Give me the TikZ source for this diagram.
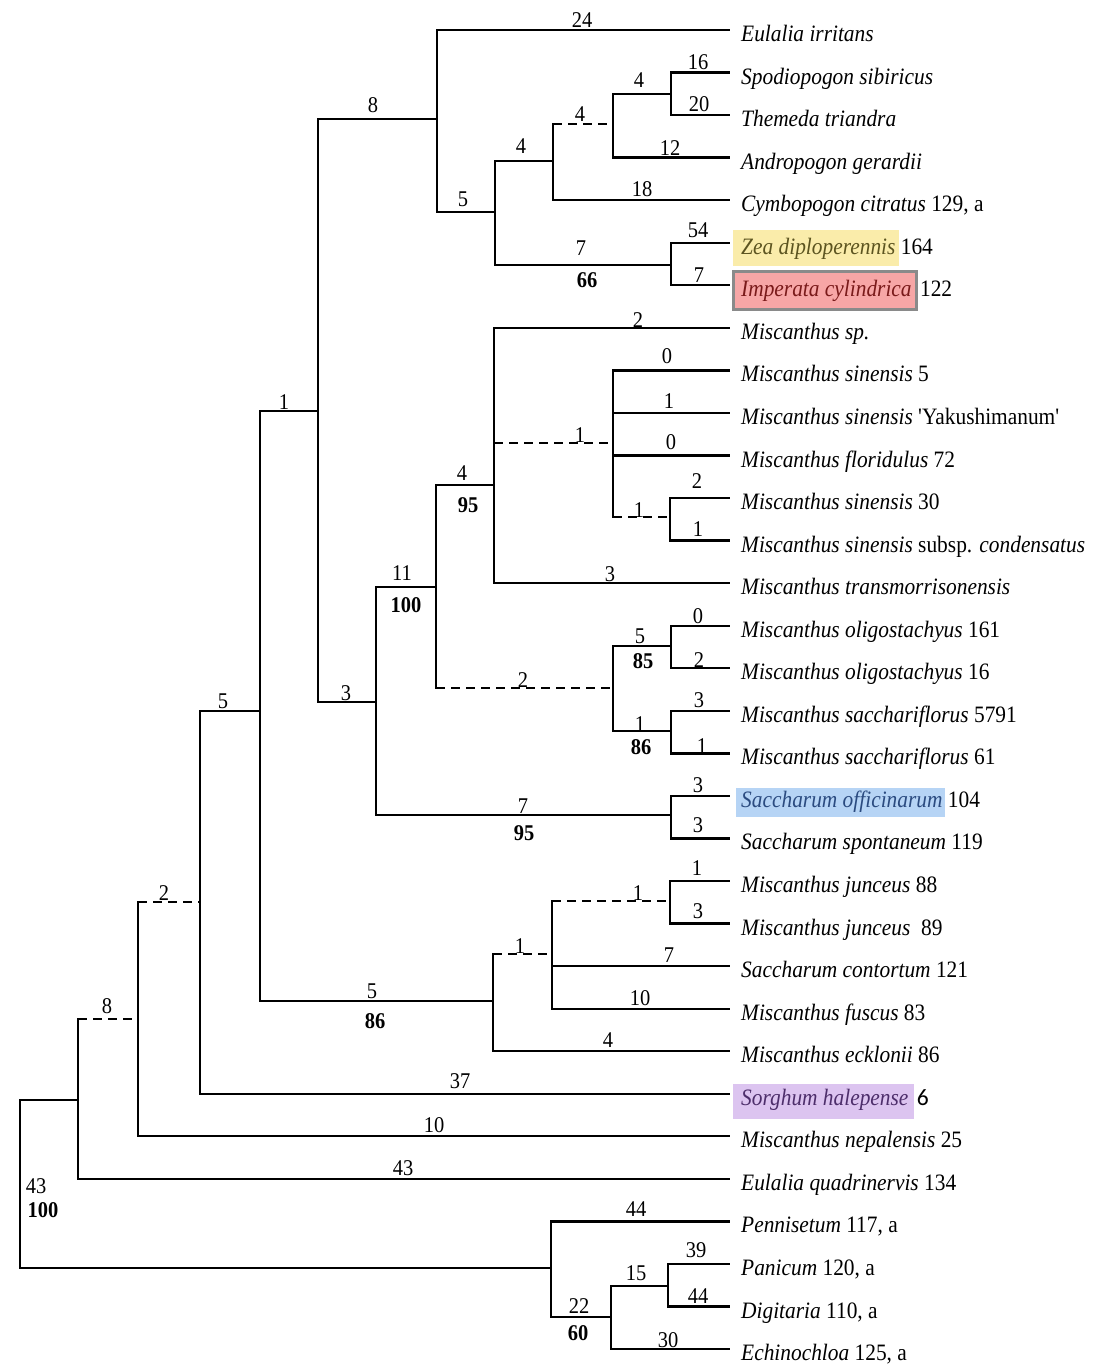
\documentclass[tikz,border=0pt]{standalone}
\usepackage{fontspec}
\setmainfont{Liberation Serif}
\setsansfont{Carlito}
\newfontfamily\lf{Liberation Serif}[FakeStretch=0.91]
\newfontfamily\qf{Liberation Serif}[FakeStretch=0.91,Ligatures=TeXOff]
\usetikzlibrary{calc,backgrounds}
\definecolor{zeafill}{HTML}{FAECAA}
\definecolor{zeatext}{HTML}{5C5420}
\definecolor{impfill}{HTML}{F7A6A6}
\definecolor{impline}{HTML}{8A8A8A}
\definecolor{imptext}{HTML}{7A1A1A}
\definecolor{sacfill}{HTML}{B6D4F5}
\definecolor{sactext}{HTML}{2B4B80}
\definecolor{sorfill}{HTML}{DCC4F0}
\definecolor{sortext}{HTML}{4D2E6B}
\newcommand\leaf[3][]{\coordinate (L#2) at (729,{30+42.55*(#2-1)});
  \node[leafstyle,#1] (T#2) at (741,{41.5+42.55*(#2-1)}) {#3};}
\newcommand\hb[3][br]{\draw[#1] (#2 |- #3) -- (#3);}
\newcommand\vb[3]{\draw[br] (#1 |- #2) -- (#1 |- #3);}
\newcommand\lab[4]{\node[labstyle] (#1) at (#2,#3) {#4};}
\newcommand\boot[4]{\node[bootstyle] (#1) at (#2,#3) {#4};}
\begin{document}
\begin{tikzpicture}[x=1pt,y=-1pt,
  br/.style={line width=2.3pt, line cap=rect},
  dbr/.style={line width=2.3pt, dash pattern=on 9pt off 6pt},
  leafstyle/.style={anchor=base west, inner sep=0pt, font=\lf\fontsize{23.5}{25}\selectfont},
  labstyle/.style={anchor=base, inner sep=0pt, font=\lf\fontsize{22.5}{24}\selectfont},
  bootstyle/.style={anchor=base, inner sep=0pt, font=\lf\bfseries\fontsize{22.5}{24}\selectfont}]
\useasboundingbox (0,0) rectangle (1102,1372);

% ---------- leaves ----------
\leaf{1}{\textit{Eulalia irritans}}
\leaf{2}{\textit{Spodiopogon sibiricus}}
\leaf{3}{\textit{Themeda triandra}}
\leaf{4}{\textit{Andropogon gerardii}}
\leaf{5}{\textit{Cymbopogon citratus} 129, a}
\leaf[text=zeatext]{6}{\textit{Zea diploperennis}}
\leaf[text=imptext]{7}{\textit{Imperata cylindrica}}
\leaf{8}{\textit{Miscanthus sp.}}
\leaf{9}{\textit{Miscanthus sinensis} 5}
\leaf{10}{\textit{Miscanthus sinensis} {\qf'}Yakushimanum{\qf'}}
\leaf{11}{\textit{Miscanthus floridulus} 72}
\leaf{12}{\textit{Miscanthus sinensis} 30}
\leaf{13}{\textit{Miscanthus sinensis} subsp. \textit{condensatus}}
\leaf{14}{\textit{Miscanthus transmorrisonensis}}
\leaf{15}{\textit{Miscanthus oligostachyus} 161}
\leaf{16}{\textit{Miscanthus oligostachyus} 16}
\leaf{17}{\textit{Miscanthus sacchariflorus} 5791}
\leaf{18}{\textit{Miscanthus sacchariflorus} 61}
\leaf[text=sactext]{19}{\textit{Saccharum officinarum}}
\leaf{20}{\textit{Saccharum spontaneum} 119}
\leaf{21}{\textit{Miscanthus junceus} 88}
\leaf{22}{\textit{Miscanthus junceus}\ \ 89}
\leaf{23}{\textit{Saccharum contortum} 121}
\leaf{24}{\textit{Miscanthus fuscus} 83}
\leaf{25}{\textit{Miscanthus ecklonii} 86}
\leaf[text=sortext]{26}{\textit{Sorghum halepense}}
\leaf{27}{\textit{Miscanthus nepalensis} 25}
\leaf{28}{\textit{Eulalia quadrinervis} 134}
\leaf{29}{\textit{Pennisetum} 117, a}
\leaf{30}{\textit{Panicum} 120, a}
\leaf{31}{\textit{Digitaria} 110, a}
\leaf{32}{\textit{Echinochloa} 125, a}

% white page and highlight boxes, behind everything
\begin{scope}[on background layer]
  \fill[white] (0,0) rectangle (1102,1372);
  \fill[zeafill] ($(T6.base west)+(-8,-24.5)$) rectangle ($(T6.base east)+(3,11.5)$);
  \filldraw[fill=impfill, draw=impline, line width=3pt] ($(T7.base west)+(-8,-25.5)$) rectangle ($(T7.base east)+(5,12.5)$);
  \fill[sacfill] ($(T19.base west)+(-5,-19.5)$) rectangle ($(T19.base east)+(2,9.5)$);
  \fill[sorfill] ($(T26.base west)+(-8,-21.5)$) rectangle ($(T26.base east)+(5,13.5)$);
\end{scope}
\node[leafstyle] (U6) at ($(T6.base east)+(5,0)$) {164};
\node[leafstyle] (U7) at ($(T7.base east)+(8,0)$) {122};
\node[leafstyle] (U19) at ($(T19.base east)+(5,0)$) {104};
\node[leafstyle] (U26) at ($(T26.base east)+(8,0)$) {\sffamily 6};

% ---------- internal nodes ----------
\coordinate (R) at (20,1100);
\coordinate (N78) at (78,1100);
\coordinate (N138) at (138,1019);
\coordinate (N200) at (200,902);
\coordinate (N260) at (260,711);
\coordinate (N318) at (318,411);
\coordinate (N437) at (437,119);
\coordinate (N495) at (495,212);
\coordinate (N553) at (553,161);
\coordinate (N613a) at (613,124);
\coordinate (N671a) at (671,94);
\coordinate (N671b) at (671,265);
\coordinate (N376) at (376,702);
\coordinate (N436) at (436,587);
\coordinate (N494) at (494,485);
\coordinate (N613m) at (613,443);
\coordinate (N670m) at (670,517);
\coordinate (N613o) at (613,688);
\coordinate (N671o) at (671,646);
\coordinate (N671p) at (671,731);
\coordinate (N671s) at (671,815);
\coordinate (N493) at (493,1001);
\coordinate (N552) at (552,954);
\coordinate (N670j) at (670,901);
\coordinate (N551) at (551,1268);
\coordinate (N611) at (611,1317);
\coordinate (N668) at (668,1286);

% ---------- vertical bars ----------
\vb{R}{N78}{N551}
\vb{N78}{N138}{L28}
\vb{N138}{N200}{L27}
\vb{N200}{N260}{L26}
\vb{N260}{N318}{N493}
\vb{N318}{N437}{N376}
\vb{N437}{L1}{N495}
\vb{N495}{N553}{N671b}
\vb{N553}{N613a}{L5}
\vb{N613a}{N671a}{L4}
\vb{N671a}{L2}{L3}
\vb{N671b}{L6}{L7}
\vb{N376}{N436}{N671s}
\vb{N436}{N494}{N613o}
\vb{N494}{L8}{L14}
\vb{N613m}{L9}{N670m}
\vb{N670m}{L12}{L13}
\vb{N613o}{N671o}{N671p}
\vb{N671o}{L15}{L16}
\vb{N671p}{L17}{L18}
\vb{N671s}{L19}{L20}
\vb{N493}{N552}{L25}
\vb{N552}{N670j}{L24}
\vb{N670j}{L21}{L22}
\vb{N551}{L29}{N611}
\vb{N611}{N668}{L32}
\vb{N668}{L30}{L31}

% ---------- horizontal branches ----------
\hb{R}{N78} \hb{R}{N551}
\hb[dbr]{N78}{N138} \hb{N78}{L28}
\hb[dbr]{N138}{N200} \hb{N138}{L27}
\hb{N200}{N260} \hb{N200}{L26}
\hb{N260}{N318} \hb{N260}{N493}
\hb{N318}{N437} \hb{N318}{N376}
\hb{N437}{L1} \hb{N437}{N495}
\hb{N495}{N553} \hb{N495}{N671b}
\hb[dbr]{N553}{N613a} \hb{N553}{L5}
\hb{N613a}{N671a} \hb{N613a}{L4}
\hb{N671a}{L2} \hb{N671a}{L3}
\hb{N671b}{L6} \hb{N671b}{L7}
\hb{N376}{N436} \hb{N376}{N671s}
\hb{N436}{N494} \hb[dbr]{N436}{N613o}
\hb{N494}{L8} \hb[dbr]{N494}{N613m} \hb{N494}{L14}
\hb{N613m}{L9} \hb{N613m}{L10} \hb{N613m}{L11} \hb[dbr]{N613m}{N670m}
\hb{N670m}{L12} \hb{N670m}{L13}
\hb{N613o}{N671o} \hb{N613o}{N671p}
\hb{N671o}{L15} \hb{N671o}{L16}
\hb{N671p}{L17} \hb{N671p}{L18}
\hb{N671s}{L19} \hb{N671s}{L20}
\hb[dbr]{N493}{N552} \hb{N493}{L25}
\hb[dbr]{N552}{N670j} \hb{N552}{L23} \hb{N552}{L24}
\hb{N670j}{L21} \hb{N670j}{L22}
\hb{N551}{L29} \hb{N551}{N611}
\hb{N611}{N668} \hb{N611}{L32}
\hb{N668}{L30} \hb{N668}{L31}

% ---------- branch labels ----------
\lab{a1}{582}{28}{24}
\lab{a2}{698}{70}{16}
\lab{a3}{699}{112}{20}
\lab{a4}{639}{88}{4}
\lab{a5}{580}{122}{4}
\lab{a6}{670}{156}{12}
\lab{a7}{642}{197}{18}
\lab{a8}{521}{154}{4}
\lab{a9}{463}{207}{5}
\lab{a10}{373}{113}{8}
\lab{a11}{581}{255}{7}
\boot{b1}{587}{287}{66}
\lab{a12}{698}{238}{54}
\lab{a13}{699}{282}{7}
\lab{a14}{638}{327}{2}
\lab{a15}{667}{363}{0}
\lab{a16}{669}{408}{1}
\lab{a17}{671}{449}{0}
\lab{a18}{580}{442}{1}
\lab{a19}{639}{517}{1}
\lab{a20}{697}{488}{2}
\lab{a21}{698}{536}{1}
\lab{a22}{610}{581}{3}
\lab{a23}{462}{480}{4}
\boot{b2}{468}{512}{95}
\lab{a24}{402}{580}{11}
\boot{b3}{406}{612}{100}
\lab{a25}{284}{409}{1}
\lab{a26}{346}{700}{3}
\lab{a27}{223}{708}{5}
\lab{a28}{523}{687}{2}
\lab{a29}{640}{643}{5}
\boot{b4}{643}{668}{85}
\lab{a30}{698}{623}{0}
\lab{a31}{699}{667}{2}
\lab{a32}{640}{731}{1}
\boot{b5}{641}{754}{86}
\lab{a33}{699}{707}{3}
\lab{a34}{702}{753}{1}
\lab{a35}{523}{813}{7}
\boot{b6}{524}{840}{95}
\lab{a36}{698}{792}{3}
\lab{a37}{698}{832}{3}
\lab{a38}{164}{900}{2}
\lab{a39}{107}{1013}{8}
\lab{a40}{520}{953}{1}
\lab{a41}{638}{900}{1}
\lab{a42}{697}{875}{1}
\lab{a43}{698}{918}{3}
\lab{a44}{669}{962}{7}
\lab{a45}{640}{1005}{10}
\lab{a46}{608}{1047}{4}
\lab{a47}{372}{998}{5}
\boot{b7}{375}{1028}{86}
\lab{a48}{460}{1088}{37}
\lab{a49}{434}{1132}{10}
\lab{a50}{403}{1175}{43}
\lab{a51}{36}{1193}{43}
\boot{b8}{43}{1217}{100}
\lab{a52}{636}{1216}{44}
\lab{a53}{696}{1257}{39}
\lab{a54}{698}{1303}{44}
\lab{a55}{636}{1280}{15}
\lab{a56}{579}{1313}{22}
\boot{b9}{578}{1340}{60}
\lab{a57}{668}{1347}{30}
\end{tikzpicture}
\end{document}
